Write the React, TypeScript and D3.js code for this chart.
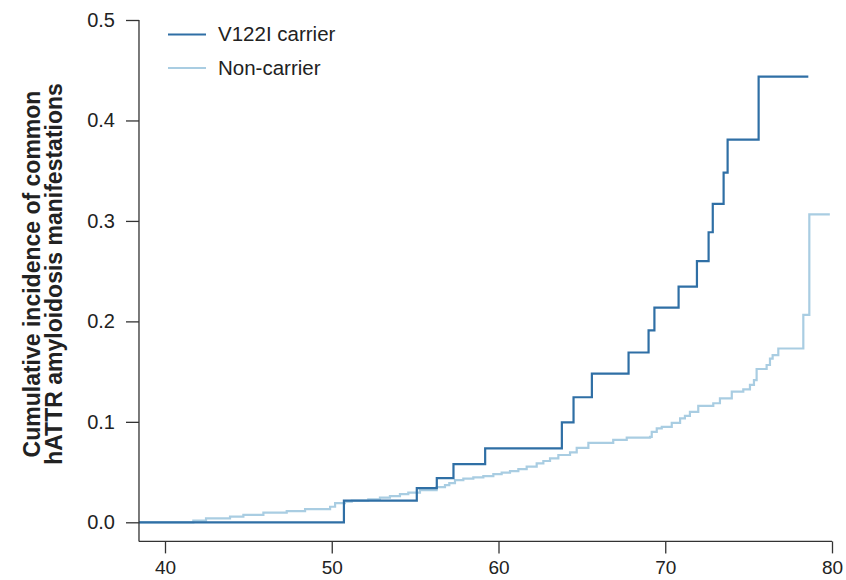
import React, { useRef, useEffect } from 'react';
import * as d3 from 'd3';

// step points: age at which the cumulative incidence jumps, value after the jump
const carrierAge = [38.44, 50.73, 55.1, 56.3, 57.3, 59.2, 63.8, 64.5, 65.6, 67.8, 69.0, 69.35, 70.8, 71.9, 72.6, 72.85, 73.5, 73.74, 75.6, 78.58];
const carrierRisk = [0, 0.0215, 0.034, 0.044, 0.058, 0.0736, 0.0995, 0.1245, 0.148, 0.169, 0.191, 0.2136, 0.2345, 0.26, 0.2887, 0.317, 0.348, 0.381, 0.4437, 0.4437];

const nonCarrierAge = [38.44, 41.7, 42.46, 43.9, 44.7, 45.9, 47.3, 48.4, 49.9, 50.2, 50.79, 51.2, 52.19, 52.89, 53.49, 54.09, 54.59, 55.29, 56.29, 56.79, 57.05, 57.39, 57.89, 58.49, 59.09, 59.69, 60.19, 60.69, 61.19, 61.69, 62.29, 62.69, 63.09, 63.59, 64.29, 64.69, 65.39, 66.88, 67.69, 69.09, 69.19, 69.49, 69.79, 70.39, 70.89, 71.18, 71.48, 71.98, 72.88, 73.28, 73.99, 74.68, 75.08, 75.32, 75.48, 76.08, 76.28, 76.44, 76.78, 78.28, 78.64, 79.87];
const nonCarrierRisk = [0, 0.0016, 0.004, 0.0056, 0.0073, 0.0096, 0.0112, 0.0132, 0.0155, 0.019, 0.0205, 0.0215, 0.0229, 0.0245, 0.026, 0.028, 0.0295, 0.032, 0.035, 0.037, 0.039, 0.042, 0.0434, 0.0448, 0.046, 0.048, 0.0494, 0.051, 0.053, 0.0554, 0.0587, 0.061, 0.0637, 0.067, 0.0697, 0.074, 0.079, 0.082, 0.0842, 0.085, 0.09, 0.0935, 0.095, 0.099, 0.1035, 0.106, 0.11, 0.1158, 0.1185, 0.1234, 0.13, 0.1324, 0.1367, 0.1416, 0.1526, 0.1566, 0.163, 0.1665, 0.173, 0.2064, 0.3066, 0.3066];

const xTicks = [40, 50, 60, 70, 80];
const yTicks = [0, 0.1, 0.2, 0.3, 0.4, 0.5];
const seriesNames = ['V122I carrier', 'Non-carrier'];
const seriesColors = ['#2f6fa5', '#a9cde2'];

const font = '"Liberation Sans", Arial, sans-serif';

const App = () => {
    const xAxisRef = useRef<SVGGElement>(null);
    const yAxisRef = useRef<SVGGElement>(null);

    const x = d3.scaleLinear().domain([40, 80]).range([165, 832]);
    const y = d3.scaleLinear().domain([0, 0.5]).range([522.3, 20]);
    const xStart = 38.44;
    const yBottom = -0.019;

    const line = d3
        .line<[number, number]>()
        .x((d) => x(d[0]))
        .y((d) => y(d[1]))
        .curve(d3.curveStepAfter);

    const carrier = carrierAge.map((a, i) => [a, carrierRisk[i]] as [number, number]);
    const nonCarrier = nonCarrierAge.map((a, i) => [a, nonCarrierRisk[i]] as [number, number]);

    useEffect(() => {
        const xAxis = d3.axisBottom(x).tickValues(xTicks).tickSize(12).tickPadding(7).tickFormat(d3.format('d'));
        const gx = d3.select(xAxisRef.current);
        gx.selectAll('*').remove();
        gx.call(xAxis);
        gx.select('.domain').remove();
        gx.selectAll('text').style('font-size', '19px').style('font-family', font).attr('fill', '#222');
        gx.selectAll('line').attr('stroke', '#333').attr('stroke-width', 1.3);

        const yAxis = d3.axisLeft(y).tickValues(yTicks).tickSize(13).tickPadding(11).tickFormat(d3.format('.1f'));
        const gy = d3.select(yAxisRef.current);
        gy.selectAll('*').remove();
        gy.call(yAxis);
        gy.select('.domain').remove();
        gy.selectAll('text').style('font-size', '20px').style('font-family', font).attr('fill', '#222');
        gy.selectAll('line').attr('stroke', '#333').attr('stroke-width', 1.3);
    }, []);

    return (
        <svg width={846} height={580} style={{ position: 'absolute', left: 0, top: 0, background: '#fff' }}>
            <path d={line(nonCarrier) || ''} fill="none" stroke={seriesColors[1]} strokeWidth={2.2} />
            <path d={line(carrier) || ''} fill="none" stroke={seriesColors[0]} strokeWidth={2.2} />

            <line x1={x(xStart)} x2={x(80)} y1={y(yBottom)} y2={y(yBottom)} stroke="#333" strokeWidth={1.3} />
            <line x1={x(xStart)} x2={x(xStart)} y1={y(0.5)} y2={y(yBottom)} stroke="#333" strokeWidth={1.3} />
            <g ref={xAxisRef} transform={`translate(0,${y(yBottom)})`} />
            <g ref={yAxisRef} transform={`translate(${x(xStart)},0)`} />

            <g fontFamily={font} fontWeight="bold" fontSize={23} fill="#222" textAnchor="middle">
                <text transform="translate(40,274) rotate(-90)">Cumulative incidence of common</text>
                <text transform="translate(62,274) rotate(-90)">hATTR amyloidosis manifestations</text>
            </g>

            {seriesNames.map((name, i) => (
                <g key={name} fontFamily={font} fontSize={20.5} fill="#222">
                    <line x1={168} x2={206} y1={34.5 + i * 33.5} y2={34.5 + i * 33.5} stroke={seriesColors[i]} strokeWidth={2.2} />
                    <text x={218} y={41 + i * 34}>{name}</text>
                </g>
            ))}
        </svg>
    );
};

export default App;
